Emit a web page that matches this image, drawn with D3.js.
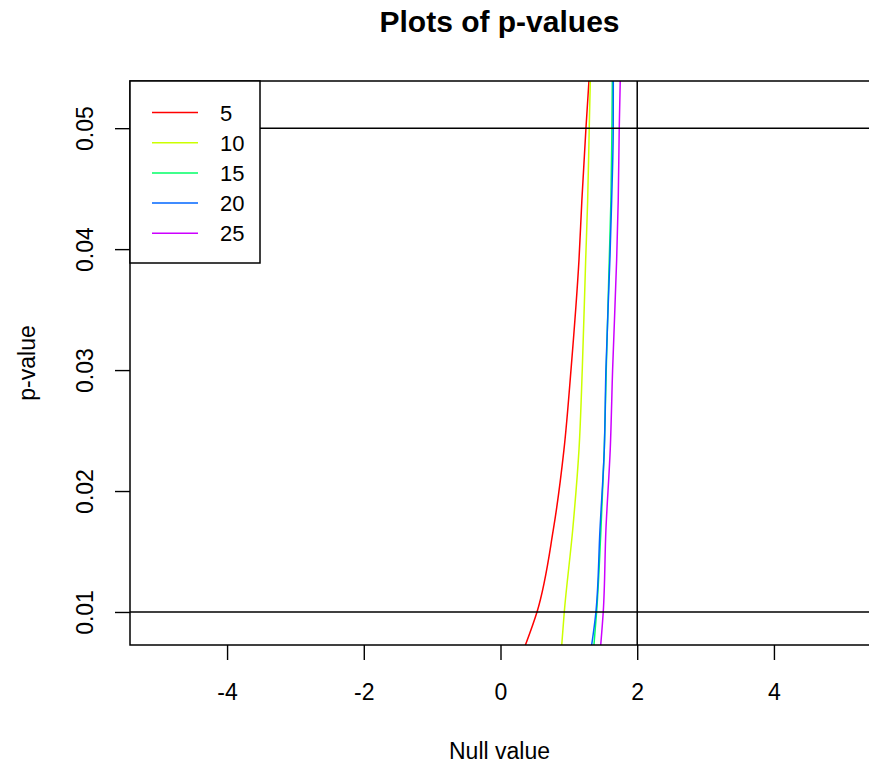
<!DOCTYPE html>
<html><head><meta charset="utf-8">
<script src="https://cdn.jsdelivr.net/npm/d3@7"></script>
<style>body{margin:0;background:#fff}svg{display:block}text{font-family:"Liberation Sans",Arial,sans-serif;fill:#000}</style>
</head><body><div id="chart"></div>
<script>
const pGrid = [0.0072, 0.01, 0.01678, 0.0234, 0.03, 0.0391, 0.044, 0.05, 0.054];
const seriesNames = ["5", "10", "15", "20", "25"];
const seriesColors = ["#FF0000", "#CCFF00", "#00FF66", "#0066FF", "#CC00FF"];
const nullValues5  = [0.36, 0.534, 0.772, 0.928, 1.031, 1.148, 1.19, 1.25, 1.295];
const nullValues10 = [0.895, 0.933, 1.056, 1.148, 1.196, 1.246, 1.275, 1.298, 1.314];
const nullValues15 = [1.366, 1.406, 1.469, 1.518, 1.547, 1.591, 1.615, 1.63, 1.636];
const nullValues20 = [1.332, 1.396, 1.455, 1.518, 1.542, 1.60, 1.626, 1.649, 1.65];
const nullValues25 = [1.465, 1.503, 1.542, 1.605, 1.64, 1.699, 1.722, 1.737, 1.752];
const seriesValues = [nullValues5, nullValues10, nullValues15, nullValues20, nullValues25];
const xTicks = [-4, -2, 0, 2, 4];
const yTicks = [0.01, 0.02, 0.03, 0.04, 0.05];
const hLines = [0.05, 0.01];
const vLines = [2];

const W = 869, H = 763;
const L = 130, R = 871, T = 81, B = 645;
const svg = d3.select("#chart").append("svg").attr("width", W).attr("height", H);
const x = d3.scaleLinear().domain([-5.42, 5.42]).range([L, R]);
const y = d3.scaleLinear().domain([0.00727, 0.0539]).range([B, T]);

svg.append("defs").append("clipPath").attr("id", "clip")
  .append("rect").attr("x", L).attr("y", T).attr("width", R - L).attr("height", B - T);

const plot = svg.append("g").attr("clip-path", "url(#clip)");
const line = d3.line().x(d => x(d[0])).y(d => y(d[1])).curve(d3.curveMonotoneY);
seriesValues.forEach((vals, i) => {
  plot.append("path")
    .datum(vals.map((v, j) => [v, pGrid[j]]))
    .attr("d", line).attr("fill", "none")
    .attr("stroke", seriesColors[i]).attr("stroke-width", 1.5);
});
hLines.forEach(h => plot.append("line").attr("x1", L).attr("x2", R)
  .attr("y1", y(h)).attr("y2", y(h)).attr("stroke", "#000").attr("stroke-width", 1.5));
vLines.forEach(v => plot.append("line").attr("x1", x(v)).attr("x2", x(v))
  .attr("y1", T).attr("y2", B).attr("stroke", "#000").attr("stroke-width", 1.5));

// box
svg.append("rect").attr("x", L).attr("y", T).attr("width", R - L).attr("height", B - T)
  .attr("fill", "none").attr("stroke", "#000").attr("stroke-width", 1.5);

// x axis
const xa = svg.append("g").attr("transform", `translate(0,${B})`)
  .call(d3.axisBottom(x).tickValues(xTicks).tickSize(15).tickFormat(d => d < 0 ? "-" + Math.abs(d) : d));
xa.select(".domain").remove();
xa.selectAll(".tick line").attr("stroke", "#000").attr("stroke-width", 1.4);
xa.selectAll(".tick text").attr("y", 0).attr("dy", null).attr("transform", "translate(0,55)")
  .style("font-size", "23px").style("font-family", "'Liberation Sans',Arial,sans-serif").attr("fill", "#000");

// y axis
const ya = svg.append("g").attr("transform", `translate(${L},0)`)
  .call(d3.axisLeft(y).tickValues(yTicks).tickSize(15).tickFormat(d3.format(".2f")));
ya.select(".domain").remove();
ya.selectAll(".tick line").attr("stroke", "#000").attr("stroke-width", 1.4);
ya.selectAll(".tick text").attr("x", 0).attr("dy", null).attr("text-anchor", "middle")
  .attr("transform", "translate(-37,0) rotate(-90)")
  .style("font-size", "23px").style("font-family", "'Liberation Sans',Arial,sans-serif").attr("fill", "#000");

// titles
svg.append("text").attr("x", (L + W) / 2).attr("y", 32).attr("text-anchor", "middle")
  .style("font-size", "30px").style("font-weight", "bold").text("Plots of p-values");
svg.append("text").attr("x", (L + W) / 2).attr("y", 759).attr("text-anchor", "middle")
  .style("font-size", "23px").text("Null value");
svg.append("text").attr("transform", `translate(35,${(T + B) / 2}) rotate(-90)`).attr("text-anchor", "middle")
  .style("font-size", "23px").text("p-value");

// legend
const lg = svg.append("g");
lg.append("rect").attr("x", L).attr("y", T).attr("width", 130).attr("height", 182)
  .attr("fill", "#fff").attr("stroke", "#000").attr("stroke-width", 1.5);
seriesNames.forEach((n, i) => {
  const cy = 112.5 + i * 30.2;
  lg.append("line").attr("x1", 152).attr("x2", 198).attr("y1", cy).attr("y2", cy)
    .attr("stroke", seriesColors[i]).attr("stroke-width", 1.5);
  lg.append("text").attr("x", 220).attr("y", cy + 8).style("font-size", "22px").text(n);
});
</script></body></html>
